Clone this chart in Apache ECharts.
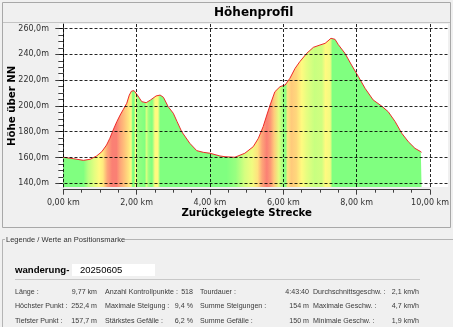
<!DOCTYPE html>
<html><head><meta charset="utf-8">
<script src="https://cdn.jsdelivr.net/npm/echarts@6/dist/echarts.min.js"></script>
<style>html,body{margin:0;padding:0;background:#f0f0f0;overflow:hidden}#c{width:453px;height:327px}</style>
</head><body><div id="c"></div>
<script>
// ---- Profile data (distance in km, elevation in m) ----
const distanceKm = [0, 0.27, 0.55, 0.73, 0.91, 1.05, 1.18, 1.27, 1.36, 1.46, 1.55, 1.64, 1.73, 1.80, 1.86, 1.93,
  2.02, 2.14, 2.26, 2.38, 2.53, 2.64, 2.73, 2.86, 3.0, 3.1, 3.23, 3.45, 3.64, 3.82, 4.0, 4.27, 4.41, 4.68, 4.95,
  5.18, 5.32, 5.45, 5.55, 5.64, 5.77, 5.91, 6.05, 6.18, 6.32, 6.45, 6.64, 6.82, 7.0, 7.14, 7.30, 7.41, 7.5, 7.68,
  7.86, 8.05, 8.23, 8.45, 8.68, 8.86, 9.05, 9.23, 9.41, 9.59, 9.75, 9.77];
const elevationM = [160.2, 159.1, 157.8, 158.6, 161.2, 164.5, 169.7, 174.9, 181.3, 187.8, 192.9, 197.4, 202, 208.4, 211.5, 211.8,
  208.4, 203.3, 202.5, 204.6, 207.7, 208.4, 206.7, 199.4, 194.3, 188, 180, 171, 165.3, 164, 163.3, 161.2, 160.6, 160.2, 163.3,
  168.4, 174.9, 183.9, 192.9, 200.7, 211, 214.9, 216.2, 221.4, 229.1, 234.3, 240.8, 245.4, 247.2, 248.5, 252.4, 251.6, 247.5, 240.8,
  231.7, 222.6, 213.6, 204.6, 199.9, 195.5, 187.8, 178.8, 172.2, 167.1, 164.5, 164];
// ---- Grade (Steigung %) ----
const gradeKm  = [0, 0.55, 0.68, 0.85, 0.98, 1.08, 1.2, 1.33, 1.45, 1.55, 1.65, 1.78, 1.85, 1.89, 1.93, 1.97, 2.02, 2.22, 2.27, 2.33,
  2.42, 2.5, 2.58, 2.64, 4.45, 4.7, 4.95, 5.15, 5.3, 5.42, 5.55, 5.65, 5.75, 5.88, 6.0, 6.05, 6.12, 6.22, 6.35, 6.5, 6.65, 6.85,
  7.05, 7.15, 7.28, 7.34, 9.77];
const gradePct = [0, 0, 1.2, 2.5, 3.5, 4.2, 7, 8.5, 8.5, 7, 6, 4.5, 3.5, 0, 0, 3.5, 0.5, 0, 2, 0.5,
  0, 3.5, 3.5, 0, 0, 0.5, 2, 3, 4.5, 7, 8.5, 7.5, 5.5, 2.5, 0.5, 0, 4.5, 5.5, 5, 3.5, 2.5, 1.5,
  1.8, 3.5, 3, 0, 0];
// ---- Axis ticks ----
const xGridKm = [0, 2, 4, 6, 8, 10];
const yGridM = [140, 160, 180, 200, 220, 240, 260];
// ---- Info panel ----
const tourName = 'wanderung-';
const tourDate = '20250605';
const panelTitle = 'Legende / Werte an Positionsmarke';
const infoLabels = [
  ['Länge :', 'Höchster Punkt :', 'Tiefster Punkt :'],
  ['Anzahl Kontrollpunkte :', 'Maximale Steigung :', 'Stärkstes Gefälle :'],
  ['Tourdauer :', 'Summe Steigungen :', 'Summe Gefälle :'],
  ['Durchschnittsgeschw. :', 'Maximale Geschw. :', 'Minimale Geschw. :']];
const infoValues = [
  ['9,77 km', '252,4 m', '157,7 m'],
  ['518', '9,4 %', '6,2 %'],
  ['4:43:40', '154 m', '150 m'],
  ['2,1 km/h', '4,7 km/h', '1,9 km/h']];

const gradeRamp = [[0, [128, 255, 128]], [1.5, [200, 255, 128]], [3.5, [255, 250, 128]], [6, [255, 190, 122]], [8.5, [250, 128, 116]]];
function gradeColor(g) {
  if (g <= gradeRamp[0][0]) return 'rgb(' + gradeRamp[0][1].join(',') + ')';
  for (let i = 1; i < gradeRamp.length; i++) {
    if (g <= gradeRamp[i][0]) {
      const a = gradeRamp[i - 1], b = gradeRamp[i];
      const t = (g - a[0]) / (b[0] - a[0]);
      const c = a[1].map((v, k) => Math.round(v + (b[1][k] - v) * t));
      return 'rgb(' + c.join(',') + ')';
    }
  }
  return 'rgb(' + gradeRamp[gradeRamp.length - 1][1].join(',') + ')';
}
const k0 = distanceKm[0], k1 = distanceKm[distanceKm.length - 1];
const colorStops = gradeKm.map((k, i) => ({ offset: Math.min(1, Math.max(0, (k - k0) / (k1 - k0))), color: gradeColor(gradePct[i]) }));

const FONT = 'DejaVu Sans';
const PFONT = 'Liberation Sans';
const chart = echarts.init(document.getElementById('c'), null, { renderer: 'canvas' });

const graphics = [
  { type: 'rect', z: -10, shape: { x: 2.5, y: 2.5, width: 448, height: 225 }, style: { fill: 'none', stroke: '#a8a8a8', lineWidth: 1 } },
  { type: 'line', z: -10, shape: { x1: 3, y1: 22.5, x2: 450, y2: 22.5 }, style: { stroke: '#c4c4c4', lineWidth: 1 } },
  { type: 'text', style: { text: 'Höhenprofil', x: 253.7, y: 13, align: 'center', verticalAlign: 'middle', font: 'bold 12px "' + FONT + '"', fill: '#000' } },
  // lower group box
  { type: 'line', shape: { x1: 2.5, y1: 239.5, x2: 5, y2: 239.5 }, style: { stroke: '#b4b4b4', lineWidth: 1 } },
  { type: 'line', shape: { x1: 2.5, y1: 239.5, x2: 2.5, y2: 327 }, style: { stroke: '#b4b4b4', lineWidth: 1 } },
  { type: 'line', shape: { x1: 125, y1: 239.5, x2: 453, y2: 239.5 }, style: { stroke: '#b4b4b4', lineWidth: 1 } },
  { type: 'text', style: { text: panelTitle, x: 6, y: 239.5, align: 'left', verticalAlign: 'middle', font: '7.5px "' + PFONT + '"', fill: '#333' } },
  { type: 'text', style: { text: tourName, x: 15, y: 270, align: 'left', verticalAlign: 'middle', font: 'bold 9.6px "' + PFONT + '"', fill: '#000' } },
  { type: 'rect', shape: { x: 72, y: 264, width: 83, height: 12 }, style: { fill: '#fff' } },
  { type: 'text', style: { text: tourDate, x: 80, y: 270, align: 'left', verticalAlign: 'middle', font: '9.5px "' + PFONT + '"', fill: '#000' } },
  { type: 'line', shape: { x1: 15, y1: 279.5, x2: 420, y2: 279.5 }, style: { stroke: '#c8c8c8', lineWidth: 1 } }
];
const labelX = [15, 105, 200, 313];
const valueX = [97, 193, 309, 419];
const rowY = [291.7, 306.5, 321];
infoLabels.forEach((col, c) => col.forEach((t, r) => {
  graphics.push({ type: 'text', style: { text: t, x: labelX[c], y: rowY[r], align: 'left', verticalAlign: 'middle', font: '7.1px "' + PFONT + '"', fill: '#3a3a3a' } });
  graphics.push({ type: 'text', style: { text: infoValues[c][r], x: valueX[c], y: rowY[r], align: 'right', verticalAlign: 'middle', font: '7.1px "' + PFONT + '"', fill: '#3a3a3a' } });
}));

const axisCol = '#404040';
const option = {
  backgroundColor: '#f0f0f0',
  animation: false,
  graphic: graphics,
  grid: [
    { left: 59.5, top: 24, width: 388.5, height: 163, show: true, backgroundColor: '#fff', borderWidth: 0, outerBoundsMode: 'none', containLabel: false },
    { left: 63.3, top: 28.5, width: 366.7, height: 154.8, show: false, outerBoundsMode: 'none', containLabel: false }
  ],
  xAxis: [
    { gridIndex: 0, type: 'value', min: -0.1036, max: 10.491, show: false },
    { gridIndex: 1, type: 'value', min: 0, max: 10, interval: 2, position: 'bottom', offset: 6.4,
      axisLine: { show: true, lineStyle: { color: axisCol, width: 1 } },
      axisTick: { show: true, length: 5, inside: false, lineStyle: { color: axisCol } },
      minorTick: { show: true, splitNumber: 4, length: 3, lineStyle: { color: axisCol } },
      splitLine: { show: false }, minorSplitLine: { show: false },
      axisLabel: { margin: 9, fontFamily: FONT, fontSize: 8, color: '#303030',
        formatter: v => v.toFixed(2).replace('.', ',') + ' km' },
      name: 'Zurückgelegte Strecke', nameLocation: 'middle', nameGap: 19, nameMoveOverlap: false,
      nameTextStyle: { fontFamily: FONT, fontWeight: 'bold', fontSize: 10.2, color: '#000' } }
  ],
  yAxis: [
    { gridIndex: 0, type: 'value', min: 137.13, max: 263.49, position: 'left', offset: 1,
      axisLine: { show: true, lineStyle: { color: axisCol, width: 1 } },
      axisTick: { show: false }, axisLabel: { show: false }, splitLine: { show: false } },
    { gridIndex: 1, type: 'value', min: 140, max: 260, interval: 20, position: 'left', offset: 4.8,
      axisLine: { show: false },
      axisTick: { show: true, length: 8, inside: false, lineStyle: { color: axisCol } },
      minorTick: { show: true, splitNumber: 4, length: 5, lineStyle: { color: axisCol } },
      splitLine: { show: false }, minorSplitLine: { show: false },
      axisLabel: { margin: 9.5, fontFamily: FONT, fontSize: 8, color: '#303030',
        formatter: v => v.toFixed(1).replace('.', ',') + 'm' },
      name: 'Höhe über NN', nameLocation: 'middle', nameGap: 41, nameMoveOverlap: false,
      nameTextStyle: { fontFamily: FONT, fontWeight: 'bold', fontSize: 10.2, color: '#000' } }
  ],
  series: [{
    type: 'line', xAxisIndex: 0, yAxisIndex: 0,
    data: distanceKm.map((k, i) => [k, elevationM[i]]),
    showSymbol: false, symbol: 'none', smooth: false,
    lineStyle: { color: '#ee2a2a', width: 1 },
    areaStyle: { opacity: 1, color: { type: 'linear', x: 0, y: 0, x2: 1, y2: 0, colorStops: colorStops } },
    emphasis: { disabled: true },
    markLine: {
      silent: true, symbol: ['none', 'none'], label: { show: false }, animation: false,
      emphasis: { disabled: true },
      lineStyle: { color: '#000', type: [3, 2], width: 1, opacity: 0.85 },
      data: xGridKm.map(v => ({ xAxis: v })).concat(yGridM.map(v => ({ yAxis: v })))
    }
  }]
};
chart.setOption(option);
</script>
</body></html>
